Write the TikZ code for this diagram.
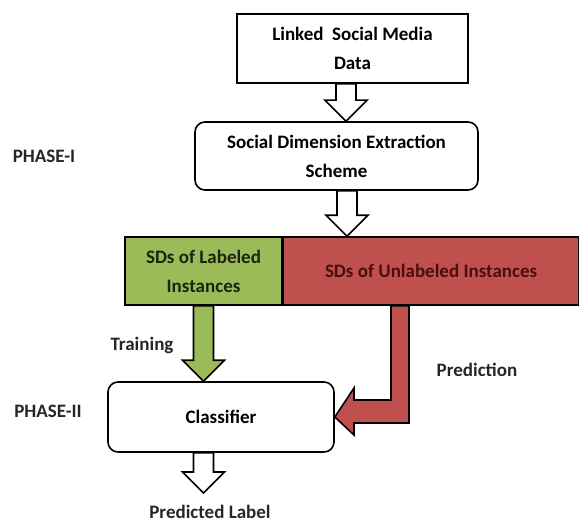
\documentclass[tikz,border=0pt]{standalone}
\usepackage{fontspec}
\setmainfont{Carlito}
\usetikzlibrary{positioning,calc}
\pgfdeclarelayer{background}
\pgfdeclarelayer{foreground}
\pgfsetlayers{background,main,foreground}

\definecolor{boxgreen}{HTML}{9BBB59}
\definecolor{boxred}{HTML}{C0504D}
\definecolor{textred}{HTML}{4A0E0C}
\definecolor{textgreen}{HTML}{1C230E}

% hollow block arrow pointing down, from #2 to #3
\newcommand{\blockarrow}[3][]{%
	\draw[blockstyle,#1] ($(#2)+(-10,0)$) -- ($(#3)+(-10,-21)$) -- ($(#3)+(-21,-21)$) -- (#3)
		-- ($(#3)+(21,-21)$) -- ($(#3)+(10,-21)$) -- ($(#2)+(10,0)$) -- cycle;}

\begin{document}
\begin{tikzpicture}[x=1pt,y=-1pt,
						font=\fontsize{19}{21}\selectfont\bfseries,
						squarenode/.style={draw=black, line width=1.6pt, fill=white, align=center, inner sep=0pt},
						roundnode/.style={squarenode, rounded corners=10pt},
						blockstyle/.style={draw=black, line width=1.6pt, fill=white, line join=miter},
						labeltext/.style={text=black!85},
						]
						\useasboundingbox (0,0) rectangle (581,524);
						%Nodes
						\node[squarenode, minimum width=231pt, minimum height=69pt]      (linked) 	at 	(352.5,48.5)    {Linked\ \ Social Media\\[8pt]Data};
						\node[roundnode, minimum width=283pt, minimum height=68pt]       (scheme) 	at 	(336.5,156)     {Social Dimension Extraction\\[8pt]Scheme};
						\node[squarenode, fill=boxgreen, text=textgreen, minimum width=157pt, minimum height=68pt] (labeled) at (203.5,271) {SDs of Labeled\\[8pt]Instances};
						\node[squarenode, fill=boxred, text=textred, minimum width=295pt, minimum height=68pt, anchor=west] (unlabeled) at (labeled.east) {SDs of Unlabeled Instances};
						\node[roundnode, minimum width=226pt, minimum height=70pt]       (classifier) 	at 	(221,417)       {Classifier};
						\node[labeltext]      (phaseone)      at 	(44,156)		{PHASE-I};
						\node[labeltext]      (phasetwo)      at 	(48,411)		{PHASE-II};
						\node[labeltext]      (training)      at 	(142,345)		{Training};
						\node[labeltext]      (prediction)      at 	(477,370)		{Prediction};
						\node[labeltext]      (predicted)      at 	(210,512)		{Predicted Label};
						\coordinate (x1) at (346,0);
						\coordinate (x2) at (347,0);
						\coordinate (x3) at (labeled.south);
						\coordinate (out) at (203.5,493);
						\coordinate (bend) at (400,411.5);

						\begin{pgfonlayer}{background}
						%Arrows
						\blockarrow{x1 |- linked.south}{x1 |- scheme.north}
						\blockarrow{x2 |- scheme.south}{x2 |- labeled.north}
						\blockarrow[fill=boxgreen]{labeled.south}{x3 |- classifier.north}
						\blockarrow{out |- classifier.south}{out}
						\draw[blockstyle, fill=boxred] ($(bend |- unlabeled.south)+(-9,0)$) -- ($(bend)+(-9,-11.5)$) -- ($(bend)+(-46,-11.5)$)
							-- ($(bend)+(-46,-23.5)$) -- (classifier.east) -- ($(bend)+(-46,23.5)$) -- ($(bend)+(-46,11.5)$)
							-- ($(bend)+(9,11.5)$) -- ($(bend |- unlabeled.south)+(9,0)$) -- cycle;
						\end{pgfonlayer}
					\end{tikzpicture}
\end{document}
